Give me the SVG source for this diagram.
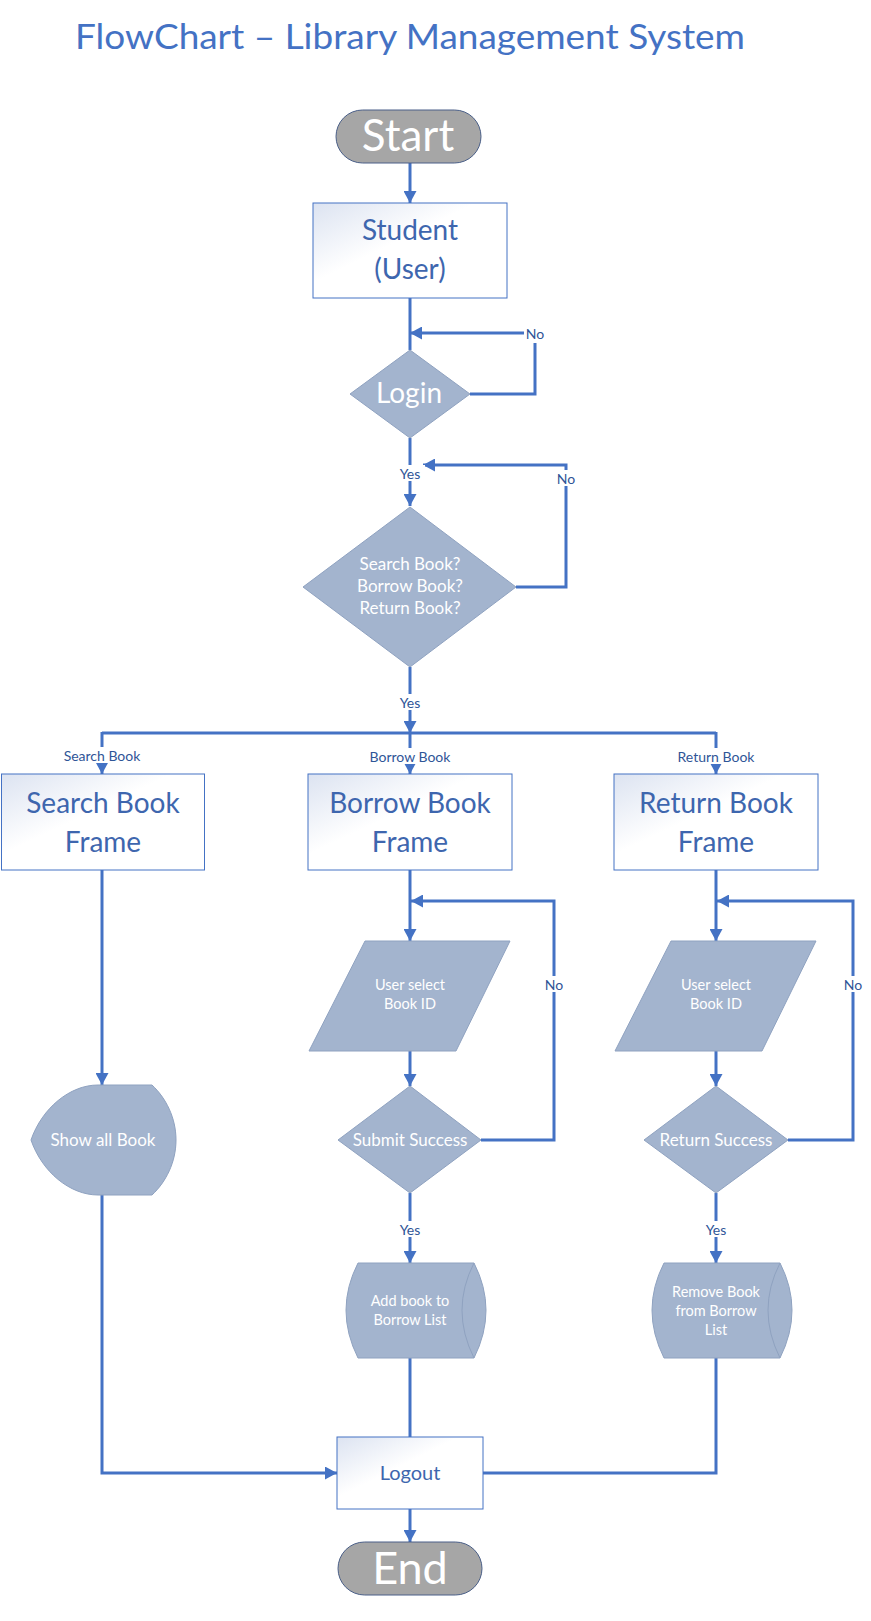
<svg xmlns="http://www.w3.org/2000/svg" width="871" height="1621" viewBox="0 0 871 1621">
<defs>
  <linearGradient id="frameGrad" x1="0" y1="0" x2="0.7" y2="0.7">
    <stop offset="0" stop-color="#DCE3F1"/>
    <stop offset="0.6" stop-color="#FFFFFF"/>
    <stop offset="1" stop-color="#FFFFFF"/>
  </linearGradient>
  <marker id="arrow" markerUnits="userSpaceOnUse" markerWidth="13" markerHeight="13" refX="12" refY="6.5" orient="auto">
    <path d="M0,0 L12,6.5 L0,13 z" fill="#4472C4"/>
  </marker>
  <style>
    .title { font-family: Lato, "Liberation Sans", sans-serif; font-size: 34px; fill: #4472C4; }
    .term { fill: #A6A6A6; stroke: #4A5F88; stroke-width: 1; }
    .termtext { font-family: Lato, "Liberation Sans", sans-serif; fill: #FFFFFF; text-anchor: middle; }
    .frame { fill: url(#frameGrad); stroke: #4472C4; stroke-width: 1; }
    .frametext { font-family: Lato, "Liberation Sans", sans-serif; font-size: 28px; fill: #3E66AE; text-anchor: middle; }
    .smalltext { font-family: Lato, "Liberation Sans", sans-serif; font-size: 20px; fill: #3E66AE; text-anchor: middle; }
    .shape { fill: #A3B4CE; stroke: #8FA2C0; stroke-width: 1; }
    .shapetext { font-family: Lato, "Liberation Sans", sans-serif; fill: #FFFFFF; text-anchor: middle; }
    .conn { fill: none; stroke: #4472C4; stroke-width: 3; }
    .lbl { font-family: Lato, "Liberation Sans", sans-serif; font-size: 14px; fill: #2F5597; text-anchor: middle; dominant-baseline: central; }
    .lblbg { fill: #FFFFFF; }
  </style>
</defs>
<rect width="871" height="1621" fill="#FFFFFF"/>

<text class="title" x="75" y="49" textLength="670" lengthAdjust="spacingAndGlyphs">FlowChart – Library Management System</text>

<g id="connectors">
  <path class="conn" d="M410,163 L410,203" marker-end="url(#arrow)"/>
  <path class="conn" d="M410,298 L410,350"/>
  <path class="conn" d="M470,394 L535,394 L535,343"/>
  <path class="conn" d="M525,333 L410,333" marker-end="url(#arrow)"/>
  <path class="conn" d="M410,438 L410,506" marker-end="url(#arrow)"/>
  <path class="conn" d="M516,587 L566,587 L566,465 L423,465" marker-end="url(#arrow)"/>
  <path class="conn" d="M410,667 L410,733" marker-end="url(#arrow)"/>
  <path class="conn" d="M102,733 L716,733"/>
  <path class="conn" d="M102,732 L102,774" marker-end="url(#arrow)"/>
  <path class="conn" d="M410,733 L410,774" marker-end="url(#arrow)"/>
  <path class="conn" d="M716,732 L716,774" marker-end="url(#arrow)"/>
  <path class="conn" d="M102,870 L102,1085" marker-end="url(#arrow)"/>
  <path class="conn" d="M102,1195 L102,1473 L337,1473" marker-end="url(#arrow)"/>
  <path class="conn" d="M410,870 L410,941" marker-end="url(#arrow)"/>
  <path class="conn" d="M410,1051 L410,1086" marker-end="url(#arrow)"/>
  <path class="conn" d="M481,1140 L554,1140 L554,901 L411,901" marker-end="url(#arrow)"/>
  <path class="conn" d="M410,1193 L410,1263" marker-end="url(#arrow)"/>
  <path class="conn" d="M410,1358 L410,1437"/>
  <path class="conn" d="M716,870 L716,941" marker-end="url(#arrow)"/>
  <path class="conn" d="M716,1051 L716,1086" marker-end="url(#arrow)"/>
  <path class="conn" d="M788,1140 L853,1140 L853,901 L717,901" marker-end="url(#arrow)"/>
  <path class="conn" d="M716,1193 L716,1263" marker-end="url(#arrow)"/>
  <path class="conn" d="M716,1358 L716,1473 L483,1473"/>
  <path class="conn" d="M410,1509 L410,1542" marker-end="url(#arrow)"/>

  <rect class="lblbg" x="524" y="325" width="22" height="16"/>
  <text class="lbl" x="535" y="333">No</text>
  <rect class="lblbg" x="395" y="465" width="30" height="16"/>
  <text class="lbl" x="410" y="473">Yes</text>
  <rect class="lblbg" x="555" y="470" width="22" height="16"/>
  <text class="lbl" x="566" y="478">No</text>
  <rect class="lblbg" x="395" y="694" width="30" height="16"/>
  <text class="lbl" x="410" y="702">Yes</text>
  <rect class="lblbg" x="60" y="747" width="84" height="16"/>
  <text class="lbl" x="102" y="755">Search Book</text>
  <rect class="lblbg" x="365" y="748" width="90" height="16"/>
  <text class="lbl" x="410" y="756">Borrow Book</text>
  <rect class="lblbg" x="674" y="748" width="84" height="16"/>
  <text class="lbl" x="716" y="756">Return Book</text>
  <rect class="lblbg" x="543" y="976" width="22" height="16"/>
  <text class="lbl" x="554" y="984">No</text>
  <rect class="lblbg" x="842" y="976" width="22" height="16"/>
  <text class="lbl" x="853" y="984">No</text>
  <rect class="lblbg" x="395" y="1221" width="30" height="16"/>
  <text class="lbl" x="410" y="1229">Yes</text>
  <rect class="lblbg" x="701" y="1221" width="30" height="16"/>
  <text class="lbl" x="716" y="1229">Yes</text>
</g>

<g id="start">
  <rect class="term" x="336" y="110" width="145" height="53" rx="26.5" ry="26.5"/>
  <text class="termtext" x="408" y="151" font-size="44">Start</text>
</g>

<g id="student">
  <rect class="frame" x="313" y="203" width="194" height="95"/>
  <text class="frametext" x="410" y="240">Student</text>
  <text class="frametext" x="410" y="279">(User)</text>
</g>

<g id="login">
  <polygon class="shape" points="410,350 470,394 410,438 350,394"/>
  <text class="shapetext" x="409" y="403" font-size="28">Login</text>
</g>

<g id="choice">
  <polygon class="shape" points="410,507 516,587 410,667 303,587"/>
  <text class="shapetext" x="410" y="570" font-size="17">Search Book?</text>
  <text class="shapetext" x="410" y="592" font-size="17">Borrow Book?</text>
  <text class="shapetext" x="410" y="614" font-size="17">Return Book?</text>
</g>

<g id="searchFrame">
  <rect class="frame" x="1.5" y="774" width="203" height="96"/>
  <text class="frametext" x="103" y="813">Search Book</text>
  <text class="frametext" x="103" y="852">Frame</text>
</g>

<g id="borrowFrame">
  <rect class="frame" x="308" y="774" width="204" height="96"/>
  <text class="frametext" x="410" y="813">Borrow Book</text>
  <text class="frametext" x="410" y="852">Frame</text>
</g>

<g id="returnFrame">
  <rect class="frame" x="614" y="774" width="204" height="96"/>
  <text class="frametext" x="716" y="813">Return Book</text>
  <text class="frametext" x="716" y="852">Frame</text>
</g>

<g id="showAll">
  <path class="shape" d="M98,1085 L152,1085 C166,1098 176,1118 176,1140 C176,1162 166,1182 152,1195 L98,1195 C70,1195 42,1172 31,1140 C42,1108 70,1085 98,1085 Z"/>
  <text class="shapetext" x="103" y="1146" font-size="17">Show all Book</text>
</g>

<g id="borrowSelect">
  <polygon class="shape" points="365,941 510,941 456,1051 309,1051"/>
  <text class="shapetext" x="410" y="990" font-size="14.5">User select</text>
  <text class="shapetext" x="410" y="1009" font-size="14.5">Book ID</text>
</g>

<g id="submitSuccess">
  <polygon class="shape" points="410,1086 481,1140 410,1193 338,1140"/>
  <text class="shapetext" x="410" y="1146" font-size="17">Submit Success</text>
</g>

<g id="addBook">
  <path class="shape" d="M358,1263 L474,1263 Q498,1310 474,1358 L358,1358 Q334,1310 358,1263 Z"/>
  <path class="shape" fill="none" d="M474,1263 Q450,1310 474,1358"/>
  <text class="shapetext" x="410" y="1306" font-size="14.5">Add book to</text>
  <text class="shapetext" x="410" y="1325" font-size="14.5">Borrow List</text>
</g>

<g id="returnSelect">
  <polygon class="shape" points="671,941 816,941 762,1051 615,1051"/>
  <text class="shapetext" x="716" y="990" font-size="14.5">User select</text>
  <text class="shapetext" x="716" y="1009" font-size="14.5">Book ID</text>
</g>

<g id="returnSuccess">
  <polygon class="shape" points="716,1086 788,1140 716,1193 644,1140"/>
  <text class="shapetext" x="716" y="1146" font-size="17">Return Success</text>
</g>

<g id="removeBook">
  <path class="shape" d="M664,1263 L780,1263 Q804,1310 780,1358 L664,1358 Q640,1310 664,1263 Z"/>
  <path class="shape" fill="none" d="M780,1263 Q756,1310 780,1358"/>
  <text class="shapetext" x="716" y="1297" font-size="14.5">Remove Book</text>
  <text class="shapetext" x="716" y="1316" font-size="14.5">from Borrow</text>
  <text class="shapetext" x="716" y="1335" font-size="14.5">List</text>
</g>

<g id="logout">
  <rect class="frame" x="337" y="1437" width="146" height="72"/>
  <text class="smalltext" x="410" y="1480">Logout</text>
</g>

<g id="end">
  <rect class="term" x="338" y="1542" width="144" height="53" rx="26.5" ry="26.5"/>
  <text class="termtext" x="410" y="1584" font-size="45">End</text>
</g>
</svg>
